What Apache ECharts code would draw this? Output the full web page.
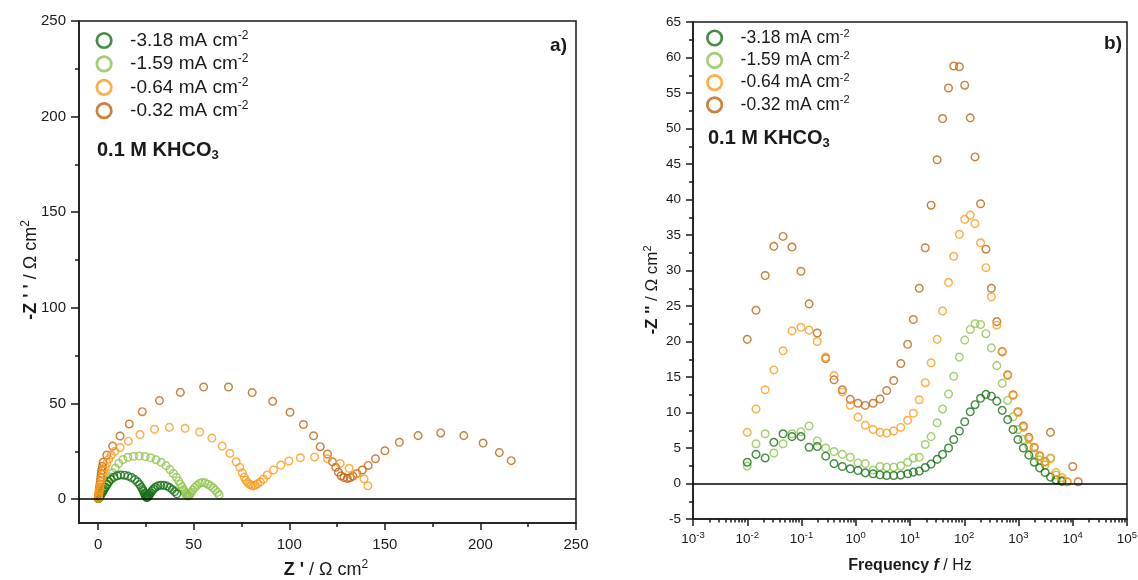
<!DOCTYPE html>
<html>
<head>
<meta charset="utf-8">
<script src="https://cdn.jsdelivr.net/npm/echarts@6/dist/echarts.min.js"></script>
<style>
html,body{margin:0;padding:0;background:#fff;}
#c{width:1138px;height:580px;}
</style>
</head>
<body>
<div id="c"></div>
<script>
// ---------- data ----------
const seriesNames = ['-3.18 mA cm-2', '-1.59 mA cm-2', '-0.64 mA cm-2', '-0.32 mA cm-2'];
const seriesColors = ['#157215', '#8fc44f', '#ff9a1a', '#c1620f'];

// Nyquist axis ticks
const nyqTicks = [0, 50, 100, 150, 200, 250];
const nyqMinorTicks = [25, 75, 125, 175, 225];
// Bode axis decades (exponents) for minor tick helper
const bodeDecades = [-3, -2, -1, 0, 1, 2, 3, 4];
const bodeMinorMult = [2, 3, 4, 5, 6, 7, 8, 9];

// Nyquist: [Z' , -Z''] in Ohm cm2
const nyq318 = [[0.1,0.3],[0.3,0.5],[0.6,0.9],[1.0,1.55],[1.4,2.2],[1.9,3.0],[2.5,4.0],[3.1,5.0],[3.8,6.2],[4.7,7.6],[5.6,9.0],[6.8,10.3],[8.3,11.4],[10.0,12.2],[11.8,12.6],[13.8,12.5],[15.7,12.0],[17.5,11.3],[19.2,10.2],[20.6,9.0],[21.7,7.6],[22.6,6.2],[23.3,5.0],[23.8,4.0],[24.2,3.1],[24.5,2.4],[24.8,1.8],[25.0,1.4],[25.2,1.1],[25.4,1.0],[25.6,1.0],[25.8,1.1],[26.0,1.3],[26.3,1.6],[26.6,2.0],[27.0,2.6],[27.5,3.3],[28.2,4.3],[29.0,5.3],[30.0,6.2],[31.3,6.9],[32.8,7.2],[34.4,7.2],[36.0,6.8],[37.5,6.0],[38.8,5.0],[40.0,3.9],[41.2,2.8]];
const nyq159 = [[0.2,0.5],[0.4,0.9],[0.8,1.6],[1.2,2.4],[1.7,3.3],[2.3,4.2],[3.0,5.2],[3.8,6.3],[4.7,7.7],[5.5,9.4],[6.4,11.5],[7.6,13.8],[9.0,16.2],[10.8,18.7],[13.0,20.7],[15.6,21.9],[18.5,22.4],[21.5,22.5],[24.6,22.2],[27.5,21.6],[30.3,20.6],[33.0,19.2],[35.5,17.5],[37.6,15.5],[39.4,13.4],[40.9,11.4],[42.1,9.5],[43.1,7.8],[43.9,6.3],[44.6,5.0],[45.2,3.9],[45.7,3.0],[46.1,2.3],[46.5,1.8],[47.0,1.6],[47.5,1.9],[48.1,2.6],[48.8,3.6],[49.6,4.8],[50.6,6.0],[51.7,7.2],[53.0,8.2],[54.4,8.7],[55.9,8.5],[57.4,7.8],[58.8,6.9],[60.1,5.9],[61.3,4.7],[62.4,3.5],[63.3,2.2]];
const nyq064 = [[0.1,0.3],[0.2,0.9],[0.3,1.6],[0.4,2.6],[0.5,3.6],[0.7,4.8],[0.9,6.0],[1.2,7.7],[1.6,9.4],[2.0,11.2],[2.5,13.0],[3.1,14.9],[3.8,16.8],[4.6,18.8],[5.6,20.9],[6.9,23.0],[8.8,25.0],[11.5,27.0],[15.8,30.3],[21.9,33.7],[29.5,36.5],[37.3,37.5],[45.5,37.0],[53.1,35.1],[59.5,31.9],[64.9,27.7],[68.9,23.9],[72.2,19.5],[74.1,16.6],[75.4,13.8],[76.4,11.5],[77.3,9.8],[78.2,8.7],[79.2,7.8],[80.2,7.2],[81.2,6.9],[82.3,7.3],[83.5,8.0],[84.9,9.0],[86.5,10.5],[88.5,12.6],[91.8,15.2],[95.6,17.8],[99.8,19.9],[105.8,21.6],[113.2,22.0],[120.0,21.1],[126.6,18.6],[131.3,16.1],[135.1,13.3],[139.1,10.6],[141.1,7.0]];
const nyq032 = [[0.1,0.3],[0.2,0.9],[0.3,1.7],[0.4,2.7],[0.5,3.8],[0.6,5.0],[0.8,6.3],[1.0,7.9],[1.2,9.6],[1.4,11.4],[1.6,13.2],[1.9,15.1],[2.2,17.1],[2.6,19.2],[4.5,23.0],[7.6,27.7],[11.5,33.0],[16.3,39.3],[23.1,45.7],[32.1,51.5],[43.0,55.8],[55.2,58.6],[68.2,58.6],[80.6,55.7],[91.3,51.1],[100.4,45.4],[107.4,39.0],[112.7,33.1],[116.2,27.4],[120.0,23.6],[122.6,19.5],[124.3,16.6],[125.7,14.1],[127.1,12.2],[128.6,11.3],[130.4,10.8],[131.8,11.2],[133.3,12.0],[135.3,13.4],[138.2,15.2],[141.3,17.6],[145.1,21.1],[150.0,25.3],[157.6,29.7],[167.4,33.2],[179.2,34.6],[191.3,33.2],[201.4,29.3],[209.9,24.3],[216.1,20.1]];

// Bode: frequency (Hz) and -Z'' (Ohm cm2)
const freqHz = [0.01,0.0145,0.0214,0.0309,0.0457,0.0668,0.0977,0.138,0.195,0.279,0.398,0.565,0.794,1.10,1.50,2.09,2.80,3.72,5.01,6.76,9.06,11.5,14.8,19.1,24.5,31.6,39.8,51.3,64.0,81.3,102,129,158,200,251,316,398,501,631,794,977,1230,1550,1950,2450,3090,3890,4900,6310,7940,10000,12600];
const bode318 = [3.0,4.1,3.6,5.8,7.0,6.6,6.6,5.1,5.2,3.85,2.8,2.4,2.07,1.83,1.5,1.37,1.22,1.13,1.13,1.18,1.37,1.6,1.74,2.26,2.73,3.4,4.1,5.0,6.2,7.4,8.7,10.1,11.1,12.0,12.55,12.3,11.6,10.3,9.0,7.6,6.2,5.0,4.0,3.0,2.2,1.55,0.9,0.5,0.3,null,null,null];
const bode159 = [2.45,5.6,7.0,4.3,5.6,7.0,7.3,8.1,6.0,5.0,4.5,4.1,3.7,2.9,2.8,1.9,2.4,2.3,2.3,2.5,3.0,3.6,3.7,5.5,6.6,8.55,10.5,12.6,15.1,17.8,20.2,21.7,22.5,22.4,21.1,19.1,16.6,14.1,11.7,9.4,7.6,6.2,5.2,4.2,3.3,2.6,3.6,1.2,0.5,0.2,null,null];
const bode064 = [7.2,10.5,13.2,16.0,18.7,21.5,22.0,21.6,20.0,17.8,15.2,12.9,11.0,9.35,8.2,7.6,7.2,7.1,7.4,7.9,8.9,9.9,11.8,14.2,17.0,20.3,24.3,28.3,32.0,35.1,37.2,37.8,36.6,33.9,30.4,26.3,22.3,18.5,15.2,12.4,10.0,7.9,6.3,5.0,3.8,3.0,3.5,1.55,0.85,0.25,null,null];
const bode032 = [20.3,24.4,29.3,33.4,34.8,33.3,29.9,25.3,21.2,17.6,14.6,13.2,11.85,11.3,11.0,11.3,11.9,13.1,14.5,16.9,19.6,23.1,27.5,33.2,39.2,45.6,51.4,55.7,58.8,58.7,56.1,51.5,46.0,39.4,33.0,27.5,22.8,18.6,15.3,12.5,10.1,8.1,6.5,5.1,3.9,3.1,7.2,null,null,null,2.4,0.25];

// ---------- styling helpers ----------
const FONT = '"Liberation Sans", Arial, Helvetica, sans-serif';
const INK = '#1a1a1a';
const nyqData = [nyq318, nyq159, nyq064, nyq032];
const bodeData = [bode318, bode159, bode064, bode032];

function pairs(zArr) {
  const out = [];
  for (let i = 0; i < freqHz.length; i++) {
    if (zArr[i] !== null) out.push([freqHz[i], zArr[i]]);
  }
  return out;
}

const minorExp = [];
bodeDecades.forEach(function (k) {
  bodeMinorMult.forEach(function (m) { minorExp.push(k + Math.log10(m)); });
});

const axisLineStyle = { color: INK, width: 1.5 };
const drawOrder = [3, 1, 0, 2];

const series = [];
drawOrder.forEach(function (i, n) {
  const base = {
    name: seriesNames[i],
    type: 'scatter',
    symbol: 'circle',
    symbolSize: 7.6,
    itemStyle: { color: 'rgba(0,0,0,0)', borderColor: seriesColors[i], borderWidth: 1.45 },
    emphasis: { disabled: true },
    silent: true
  };
  const s1 = Object.assign({}, base, { xAxisIndex: 0, yAxisIndex: 0, data: nyqData[i] });
  const s2 = Object.assign({}, base, { xAxisIndex: 2, yAxisIndex: 2, data: pairs(bodeData[i]) });
  if (n === 0) {
    const ml = { silent: true, symbol: 'none', label: { show: false },
      lineStyle: { color: '#000', width: 1.6, type: 'solid' }, data: [{ yAxis: 0 }] };
    s1.markLine = ml;
    s2.markLine = JSON.parse(JSON.stringify(ml));
  }
  series.push(s1, s2);
});

function legendCfg(left, top, fs, lh, gap) {
  return {
    show: true, data: seriesNames, orient: 'vertical', left: left, top: top,
    itemWidth: 42, itemHeight: 14.5, itemGap: gap, padding: 0, selectedMode: false,
    itemStyle: { borderWidth: 2.7 },
    formatter: function (name) { return '{b|' + name.replace(/-2$/, '') + '}{s|-2}'; },
    textStyle: {
      fontFamily: FONT, color: INK, fontSize: fs,
      rich: {
        b: { fontFamily: FONT, color: INK, fontSize: fs, lineHeight: lh },
        s: { fontFamily: FONT, color: INK, fontSize: Math.round(fs * 0.65), padding: [0, 0, Math.round(fs * 0.5), 0] }
      }
    }
  };
}

function txt(x, y, text, rich, rot) {
  const el = {
    type: 'text', x: x, y: y, silent: true,
    style: { text: text, rich: rich, align: 'center', verticalAlign: 'middle', fill: INK, fontFamily: FONT }
  };
  if (rot) el.rotation = rot;
  return el;
}
function richSet(fs) {
  return {
    b: { fontSize: fs, fontWeight: 'bold', fontFamily: FONT, fill: INK },
    bi: { fontSize: fs, fontWeight: 'bold', fontStyle: 'italic', fontFamily: FONT, fill: INK },
    n: { fontSize: fs, fontFamily: FONT, fill: INK },
    s: { fontSize: Math.round(fs * 0.65), fontFamily: FONT, fill: INK, padding: [0, 0, Math.round(fs * 0.55), 0] }
  };
}
function kh(x, y, fs) {
  return {
    type: 'text', x: x, y: y, silent: true,
    style: {
      text: '{b|0.1 M KHCO}{u|3}', align: 'left', verticalAlign: 'middle',
      rich: {
        b: { fontSize: fs, fontWeight: 'bold', fontFamily: FONT, fill: INK },
        u: { fontSize: Math.round(fs * 0.65), fontWeight: 'bold', fontFamily: FONT, fill: INK, padding: [Math.round(fs * 0.55), 0, 0, 0] }
      }
    }
  };
}

const option = {
  animation: false,
  backgroundColor: '#ffffff',
  grid: [
    { left: 79, top: 21, width: 497, height: 502, show: true, borderColor: INK, borderWidth: 1.5, backgroundColor: 'rgba(0,0,0,0)', containLabel: false, outerBoundsMode: 'none' },
    { left: 693, top: 22, width: 434, height: 497, show: true, borderColor: INK, borderWidth: 1.5, backgroundColor: 'rgba(0,0,0,0)', containLabel: false, outerBoundsMode: 'none' }
  ],
  xAxis: [
    { gridIndex: 0, type: 'value', min: -10, max: 250, position: 'bottom',
      axisLine: { onZero: false, lineStyle: axisLineStyle },
      axisTick: { customValues: nyqTicks, length: 7, lineStyle: axisLineStyle },
      axisLabel: { customValues: nyqTicks, margin: 14.5, fontSize: 15, color: INK, fontFamily: FONT },
      splitLine: { show: false } },
    { gridIndex: 0, type: 'value', min: -10, max: 250, position: 'bottom',
      axisLine: { show: false, onZero: false },
      axisTick: { customValues: nyqMinorTicks, length: 4, lineStyle: axisLineStyle },
      axisLabel: { show: false }, splitLine: { show: false } },
    { gridIndex: 1, type: 'log', logBase: 10, min: 0.001, max: 100000, position: 'bottom',
      axisLine: { onZero: false, lineStyle: axisLineStyle },
      axisTick: { length: 7, lineStyle: axisLineStyle },
      axisLabel: {
        margin: 11, color: INK, fontFamily: FONT, fontSize: 13.5,
        formatter: function (v) { return '{b|10}{s|' + Math.round(Math.log10(v)) + '}'; },
        rich: {
          b: { fontSize: 13.5, fontFamily: FONT, color: INK },
          s: { fontSize: 9.5, fontFamily: FONT, color: INK, padding: [0, 0, 8, 0] }
        }
      },
      splitLine: { show: false }, minorTick: { show: false } },
    { gridIndex: 1, type: 'value', min: -3, max: 5, position: 'bottom',
      axisLine: { show: false, onZero: false },
      axisTick: { customValues: minorExp, length: 3.5, lineStyle: axisLineStyle },
      axisLabel: { show: false }, splitLine: { show: false } }
  ],
  yAxis: [
    { gridIndex: 0, type: 'value', min: -12.5, max: 250, position: 'left',
      axisLine: { onZero: false, lineStyle: axisLineStyle },
      axisTick: { customValues: nyqTicks, length: 8, lineStyle: axisLineStyle },
      axisLabel: { customValues: nyqTicks, margin: 13, fontSize: 15, color: INK, fontFamily: FONT },
      splitLine: { show: false } },
    { gridIndex: 0, type: 'value', min: -12.5, max: 250, position: 'left',
      axisLine: { show: false, onZero: false },
      axisTick: { customValues: nyqMinorTicks, length: 4, lineStyle: axisLineStyle },
      axisLabel: { show: false }, splitLine: { show: false } },
    { gridIndex: 1, type: 'value', min: -5, max: 65, interval: 5, position: 'left',
      axisLine: { onZero: false, lineStyle: axisLineStyle },
      axisTick: { length: 7, lineStyle: axisLineStyle },
      minorTick: { show: true, splitNumber: 2, length: 4, lineStyle: axisLineStyle },
      axisLabel: { margin: 12, fontSize: 13.5, color: INK, fontFamily: FONT },
      splitLine: { show: false }, minorSplitLine: { show: false } }
  ],
  legend: [
    legendCfg(95.5, 29.5, 19, 22, 2.9),
    legendCfg(706, 28, 17.5, 21, 3.3)
  ],
  graphic: [
    { type: 'text', x: 567, y: 46, silent: true, style: { text: 'a)', fontSize: 19, fontWeight: 'bold', fontFamily: FONT, fill: INK, align: 'right', verticalAlign: 'middle' } },
    { type: 'text', x: 1122, y: 44, silent: true, style: { text: 'b)', fontSize: 19, fontWeight: 'bold', fontFamily: FONT, fill: INK, align: 'right', verticalAlign: 'middle' } },
    kh(97, 150, 20),
    kh(708, 138, 20),
    txt(31, 270, "{b|-Z ' '}{n| / Ω cm}{s|2}", richSet(18), Math.PI / 2),
    txt(326, 570, "{b|Z '}{n| / Ω cm}{s|2}", richSet(18)),
    txt(652, 290, "{b|-Z ''}{n| / Ω cm}{s|2}", richSet(17), Math.PI / 2),
    txt(910, 566, "{b|Frequency }{bi|f}{n| / Hz}", richSet(16))
  ],
  series: series
};

const chart = echarts.init(document.getElementById('c'), null, { renderer: 'canvas' });
chart.setOption(option);
</script>
</body>
</html>
